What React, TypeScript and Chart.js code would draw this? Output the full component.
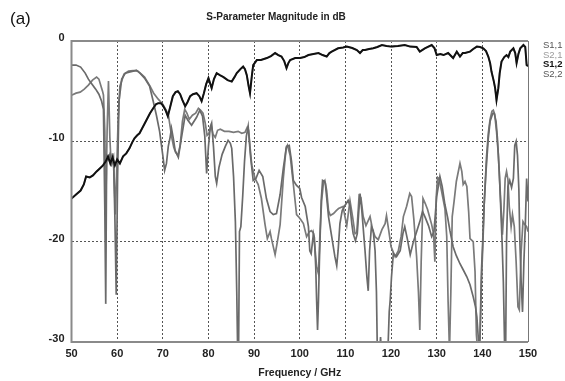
import React, { useEffect, useRef } from "react";
import { Chart, registerables } from "chart.js";

Chart.register(...registerables);

const TITLE = "S-Parameter Magnitude in dB";
const X_TITLE = "Frequency / GHz";
const LEGEND_LABELS = ["S1,1", "S2,1", "S1,2", "S2,2"];

// Transmission S1,2 (black)
const FREQ_S12 = [50, 51, 52, 52.7, 53.2, 54, 54.7, 55.5, 56.2, 56.9, 57.5, 58, 58.5, 59, 59.5, 60, 60.6, 61.3, 62, 62.7, 63.3, 63.8, 64.4, 64.9, 65.6, 66.4, 67.2, 67.9, 68.5, 69, 69.6, 70, 70.6, 71.1, 71.6, 72.2, 72.8, 73.3, 73.8, 74.3, 74.9, 75.4, 76, 76.6, 77.4, 78, 78.5, 79, 79.5, 80, 80.7, 81.2, 81.8, 82.5, 83.3, 84.2, 85.1, 85.7, 86.2, 87, 87.6, 88, 88.4, 88.8, 89.1, 89.5, 89.8, 90.6, 91.5, 92.8, 93.7, 94.6, 95.3, 96, 96.6, 97.1, 97.5, 97.9, 99, 100.1, 101, 101.9, 103, 104.1, 105, 105.9, 106.5, 107, 108.4, 109.5, 110.3, 111.5, 112.5, 113.2, 113.8, 114.3, 115.2, 116.1, 117, 118, 119, 120.1, 121.5, 123, 124.2, 125.6, 126.3, 127.4, 128.9, 129.5, 130, 130.8, 131.5, 132.5, 133.6, 134.4, 135.1, 135.7, 136.2, 137.3, 138, 138.8, 139.5, 140.2, 140.8, 141.3, 141.7, 142, 142.5, 142.8, 143.1, 143.5, 143.8, 144.2, 144.8, 145.3, 145.7, 146.1, 146.8, 147.2, 147.5, 147.9, 148.3, 149, 149.4, 149.7, 150];
const S12 = [-15.7, -15.3, -14.9, -14.3, -13.5, -13.6, -13.4, -13.0, -12.7, -12.4, -12.0, -11.5, -12.2, -11.6, -12.4, -11.8, -12.2, -11.5, -11.2, -10.7, -10.1, -9.7, -9.4, -9.2, -8.6, -7.9, -7.2, -6.7, -6.3, -6.2, -6.2, -6.4, -6.9, -7.5, -6.6, -5.5, -5.1, -5.0, -5.3, -5.9, -6.5, -6.1, -5.5, -5.3, -5.2, -5.5, -6.0, -5.2, -4.3, -3.7, -4.7, -3.8, -3.2, -3.4, -3.6, -3.9, -4.05, -3.6, -3.2, -2.8, -2.55, -2.8, -3.4, -4.5, -5.2, -3.5, -2.4, -1.9, -1.9, -1.7, -1.5, -1.2, -1.4, -1.55, -2.0, -2.7, -2.2, -1.9, -1.7, -1.7, -1.6, -1.4, -1.3, -1.2, -1.4, -1.55, -1.2, -1.06, -0.73, -0.65, -0.56, -0.7, -0.9, -1.2, -0.9, -0.9, -0.8, -0.73, -0.6, -0.4, -0.5, -0.56, -0.5, -0.4, -0.56, -0.6, -1.06, -0.73, -0.4, -0.7, -1.4, -1.3, -1.4, -1.2, -1.7, -1.06, -1.55, -1.2, -1.2, -1.06, -0.8, -0.56, -0.6, -0.73, -1.0, -1.55, -2.2, -3.05, -4.0, -4.7, -5.9, -4.7, -3.2, -2.05, -1.6, -1.4, -1.6, -1.06, -0.73, -1.2, -2.2, -1.3, -0.73, -0.4, -0.6, -2.4, -2.5];

// S2,1 lies under S1,2 (reciprocal network), read as the same trace
const FREQ_S21 = FREQ_S12;
const S21 = S12;

// Reflection S1,1
const FREQ_S11 = [50, 51, 52, 53, 53.7, 54.5, 55.3, 56, 56.6, 57, 57.3, 57.5, 57.7, 58, 58.4, 58.8, 59.2, 59.5, 59.8, 60.1, 60.4, 61, 61.8, 62.6, 63.5, 64.2, 65, 66, 67.1, 67.9, 68.6, 69.3, 70, 70.4, 70.8, 71.2, 71.6, 71.9, 72.3, 72.7, 73.4, 74.1, 74.9, 75.5, 76.3, 77.4, 78.1, 78.7, 79.2, 79.6, 80, 80.4, 80.7, 81.1, 81.5, 81.8, 82.3, 83, 83.7, 84.3, 84.8, 85.1, 85.5, 85.9, 86.2, 86.4, 86.6, 86.8, 87.1, 87.5, 87.9, 88.3, 88.7, 89.2, 89.8, 90.4, 91.1, 91.9, 92.7, 93.5, 94.2, 94.9, 95.7, 96.4, 97.1, 97.7, 98.2, 98.6, 99.3, 100, 100.4, 101.2, 101.9, 102.2, 102.5, 103, 103.2, 103.5, 103.7, 103.9, 104.1, 104.3, 104.7, 105, 105.4, 105.6, 105.9, 106.3, 107, 107.7, 108.1, 108.4, 108.8, 109.3, 109.9, 110.6, 111, 111.4, 111.7, 112.2, 112.6, 113.2, 113.6, 114.3, 114.7, 115, 115.3, 115.7, 116.1, 116.5, 116.8, 117, 117.5, 117.7, 117.9, 119.3, 119.6, 119.8, 120.1, 120.5, 121.2, 122, 122.6, 123, 123.6, 124.2, 124.9, 125.6, 126.3, 126.9, 127.5, 128.2, 128.9, 129.4, 130, 130.7, 131.2, 131.8, 132.4, 132.9, 133.6, 134.3, 135.1, 135.8, 136.6, 137.3, 138, 138.5, 138.8, 139.1, 139.4, 139.8, 140.1, 140.4, 140.8, 141.3, 141.7, 142.3, 142.6, 143, 143.3, 143.7, 144, 144.3, 144.6, 144.9, 145.1, 145.3, 145.6, 146, 146.4, 146.8, 147.1, 147.4, 147.7, 148, 148.2, 148.5, 148.8, 149.1, 149.4, 149.7, 150];
const S11 = [-2.4, -2.4, -2.6, -3.2, -3.8, -4.3, -4.8, -5.3, -6.0, -6.8, -16.8, -26.2, -11.5, -11.8, -11.3, -12.2, -11.6, -17.5, -25.3, -13.5, -6.0, -3.8, -3.2, -3.1, -3.0, -2.9, -3.2, -3.7, -4.5, -6.0, -7.4, -9.0, -11.4, -12.9, -12.2, -10.5, -9.6, -8.7, -9.7, -10.9, -11.6, -9.6, -7.4, -7.9, -8.4, -7.6, -6.9, -7.5, -9.5, -13.2, -10.5, -8.6, -8.2, -10.5, -13.5, -14.2, -12.6, -11.3, -10.5, -9.9, -10.2, -10.7, -13.5, -18, -25, -31, -31, -19, -18.5, -15.5, -12, -9.5, -8.5, -11.4, -13.9, -13.7, -12.9, -13.5, -15.7, -17.0, -17.3, -17.2, -15.3, -12.7, -10.5, -10.4, -12.0, -13.9, -14.4, -14.7, -15.6, -16.5, -18.5, -20.9, -21.2, -19.2, -19.6, -22.5, -25.9, -28.8, -25.9, -22, -15.9, -13.9, -14, -14.2, -15.6, -17.5, -19.5, -21.5, -22.4, -20.9, -18.2, -16.9, -16.4, -15.9, -16.4, -18.2, -19.2, -19.9, -19.2, -15.2, -16.9, -20.9, -23.5, -24.9, -20.9, -18.5, -18.9, -20.9, -25, -31, -31, -29.5, -31, -31, -27, -25.9, -23.5, -21.2, -21.5, -20.9, -19.2, -18.5, -19.8, -21.3, -20.0, -19.0, -18.0, -17.0, -17.6, -18.4, -19.5, -19.0, -15.5, -13.5, -14.5, -16.3, -17.6, -18.9, -20.5, -21.4, -22.2, -22.8, -23.5, -24.3, -25.5, -26.5, -27.5, -29.5, -31, -23, -19.7, -16.3, -13.0, -9.7, -8.0, -7.2, -7.2, -8.0, -9.7, -13, -16.3, -19.7, -24, -31, -31, -20, -14.5, -13.9, -14.6, -13.7, -10.4, -10.0, -11.4, -14.8, -19.7, -24, -27, -22, -18.5, -13.7, -16];

// Reflection S2,2
const FREQ_S22 = [50, 51, 51.9, 52.8, 53.7, 54.6, 55.5, 56, 56.4, 56.8, 57, 57.3, 57.5, 57.8, 58.1, 58.4, 58.7, 59, 59.3, 59.6, 59.9, 60.2, 60.6, 61.5, 62.5, 63.5, 64.5, 65.3, 66, 67.2, 68, 69, 70, 70.6, 71.2, 71.6, 72, 72.4, 72.8, 73.3, 73.8, 74.3, 74.8, 75.3, 75.8, 76.5, 77.2, 77.8, 78.3, 78.8, 79.3, 79.7, 80.1, 80.6, 81, 81.5, 82, 82.6, 83.5, 84.5, 85.5, 86.5, 87.3, 88, 88.5, 88.8, 89.1, 89.5, 90.2, 90.9, 91.6, 92.4, 92.9, 93.5, 93.8, 94.6, 95.1, 95.7, 96.4, 97, 97.3, 97.9, 98.6, 99.3, 99.7, 100.2, 100.8, 101.5, 102.1, 102.6, 103, 103.3, 103.7, 104.1, 104.4, 104.8, 105.2, 105.5, 105.9, 106.3, 106.7, 107.4, 108, 108.5, 109.5, 109.9, 110.3, 111, 111.6, 112.1, 112.5, 113, 113.4, 113.9, 114.5, 115, 115.4, 116, 116.5, 117.2, 118, 118.7, 119, 119.5, 120, 120.9, 121.6, 122.2, 122.7, 123.4, 124.1, 124.5, 125, 125.6, 126, 126.3, 126.6, 127, 127.5, 128, 128.9, 129.3, 129.6, 129.9, 130.2, 130.5, 131, 131.8, 132.2, 132.5, 132.8, 133.1, 133.4, 133.8, 134.3, 135.1, 135.5, 135.8, 136.2, 136.6, 137, 137.3, 138, 138.4, 138.7, 139, 139.5, 139.8, 140.1, 140.4, 140.9, 141.3, 141.7, 142.1, 142.4, 142.7, 143.1, 143.5, 143.8, 144.1, 144.4, 144.7, 145, 145.3, 145.6, 145.9, 146.3, 146.6, 147, 147.4, 147.8, 148.1, 148.5, 148.9, 149.3, 149.7, 150];
const S22 = [-5.4, -5.2, -5.1, -4.8, -4.4, -3.9, -3.6, -3.8, -4.4, -5.0, -5.4, -9, -16.9, -9, -4.0, -9.6, -12.5, -11.2, -12.8, -17.3, -13, -8, -4.5, -3.3, -3.0, -2.95, -3.0, -3.3, -3.6, -4.5, -5.2, -5.8, -6.3, -6.8, -7.3, -8.5, -9.7, -10.6, -11.1, -11.4, -10.4, -8.0, -6.8, -7.2, -7.8, -7.4, -7.2, -6.7, -6.9, -7.2, -8.2, -9.4, -9.2, -8.4, -9.3, -9.6, -8.9, -8.8, -9.0, -9.0, -9.1, -9.0, -9.2, -9.1, -8.6, -8.9, -10.5, -12.4, -13.7, -14.3, -15.7, -18.3, -19.7, -19.0, -19.7, -21.3, -20.0, -18.3, -13.7, -10.7, -10.4, -11.4, -14.3, -17.3, -17.5, -17.8, -18.2, -19.5, -19.0, -18.9, -19.2, -20.5, -22.5, -23.2, -19.5, -15.9, -14.1, -13.9, -14.9, -16.9, -17.4, -17.2, -16.9, -16.7, -16.5, -17.5, -18.4, -15.9, -17.6, -19.2, -19.1, -15.4, -15.6, -17.5, -18.4, -17.9, -17.5, -18.9, -19.5, -19.8, -18.8, -18.2, -17.4, -18.9, -20.5, -21.5, -20.9, -19.5, -17.5, -16.5, -15.2, -15.5, -17.8, -21.5, -25, -28.8, -22, -15.7, -16.2, -16.8, -18.3, -19.2, -22, -15.5, -13.6, -13.7, -14.8, -16.7, -19.5, -26, -31, -25, -17.5, -16, -14, -12.2, -13, -14.3, -14, -14.5, -17, -19.7, -20, -23, -29.3, -31, -29.6, -24, -20.5, -16.3, -11.6, -9.2, -7.8, -7.0, -6.9, -7.3, -9.0, -11.3, -14.0, -16.6, -19.3, -17, -13.7, -13.0, -13.8, -16.5, -18.5, -17.3, -18.5, -22, -26.5, -26.8, -21, -18, -18.3, -18.5, -19];

const X_MIN = 50;
const X_MAX = 150;
const Y_MIN = -30;
const Y_MAX = 0;

const FONT = "'Liberation Sans', Arial, sans-serif";

const toPoints = (xs: number[], ys: number[]) => xs.map((x, i) => ({ x, y: ys[i] }));

const framePlugin = {
  id: "frame",
  afterDraw(chart: any) {
    const { ctx, chartArea } = chart;
    const { left, right, top, bottom } = chartArea;
    ctx.save();
    ctx.strokeStyle = "#8a8a8a";
    ctx.lineWidth = 2;
    ctx.beginPath();
    ctx.moveTo(left, top);
    ctx.lineTo(right, top);
    ctx.moveTo(left, bottom);
    ctx.lineTo(right, bottom);
    ctx.moveTo(left, top - 1);
    ctx.lineTo(left, bottom + 1);
    ctx.stroke();
    ctx.strokeStyle = "#777";
    ctx.lineWidth = 1;
    ctx.beginPath();
    ctx.moveTo(right + 0.5, top);
    ctx.lineTo(right + 0.5, bottom);
    ctx.stroke();
    ctx.restore();
  },
};

export default function App() {
  const canvasRef = useRef<HTMLCanvasElement | null>(null);

  useEffect(() => {
    document.body.style.margin = "0";
    const canvas = canvasRef.current;
    if (!canvas) return;
    const gridColor = (c: any) =>
      c.tick && (c.tick.value === X_MIN || c.tick.value === X_MAX || c.tick.value === Y_MIN || c.tick.value === Y_MAX)
        ? "rgba(0,0,0,0)"
        : "#555";
    const chart = new Chart(canvas, {
      type: "line",
      data: {
        datasets: [
          { label: "S1,2", data: toPoints(FREQ_S12, S12), borderColor: "#111", borderWidth: 2, order: 0 },
          { label: "S2,1", data: toPoints(FREQ_S21, S21), borderColor: "#999", borderWidth: 1.6, order: 1 },
          { label: "S1,1", data: toPoints(FREQ_S11, S11), borderColor: "#6a6a6a", borderWidth: 1.7, order: 2 },
          { label: "S2,2", data: toPoints(FREQ_S22, S22), borderColor: "#7a7a7a", borderWidth: 1.7, order: 3 },
        ],
      },
      options: {
        responsive: false,
        animation: false,
        devicePixelRatio: 1,
        elements: { point: { radius: 0 }, line: { tension: 0, fill: false } },
        layout: { padding: { left: 0, right: 37, top: 41, bottom: 0 } },
        plugins: { legend: { display: false }, tooltip: { enabled: false }, title: { display: false } },
        scales: {
          x: {
            type: "linear",
            min: X_MIN,
            max: X_MAX,
            afterFit: (s: any) => { s.height = 39; },
            ticks: { stepSize: 10, color: "#222", font: { family: FONT, size: 11, weight: "bold" }, padding: 5, maxRotation: 0 },
            grid: { color: gridColor, lineWidth: 1, drawTicks: false },
            border: { display: false, dash: [2, 2] },
            title: { display: true, text: X_TITLE, color: "#222", font: { family: FONT, size: 10.5, weight: "bold" }, padding: { top: 0, bottom: 2 } },
          },
          y: {
            type: "linear",
            min: Y_MIN,
            max: Y_MAX,
            afterFit: (s: any) => { s.width = 71.5; },
            ticks: { stepSize: 10, color: "#222", font: { family: FONT, size: 11, weight: "bold" }, padding: 7, labelOffset: -3, callback: (v: any) => String(v) },
            grid: { color: gridColor, lineWidth: 1, drawTicks: false },
            border: { display: false, dash: [2, 2] },
          },
        },
      },
      plugins: [framePlugin],
    });
    return () => chart.destroy();
  }, []);

  const legendColors = ["#555", "#9a9a9a", "#111", "#555"];

  return (
    <div style={{ position: "fixed", left: 0, top: 0, width: 565, height: 381, background: "#fff", overflow: "hidden" }}>
      <canvas ref={canvasRef} width={565} height={381} style={{ position: "absolute", left: 0, top: 0, width: 565, height: 381 }} />
      <div style={{ position: "absolute", left: 10, top: 9, fontFamily: FONT, fontSize: 17, lineHeight: "20px", color: "#111" }}>(a)</div>
      <div style={{ position: "absolute", left: 0, width: 552, top: 11, textAlign: "center", fontFamily: FONT, fontSize: 10, fontWeight: "bold", lineHeight: "12px", color: "#222" }}>{TITLE}</div>
      <div style={{ position: "absolute", left: 543, top: 40, fontFamily: FONT, fontSize: 9.5, lineHeight: "9.7px" }}>
        {LEGEND_LABELS.map((l, i) => (
          <div key={l} style={{ color: legendColors[i], fontWeight: i === 2 ? "bold" : "normal" }}>{l}</div>
        ))}
      </div>
    </div>
  );
}
